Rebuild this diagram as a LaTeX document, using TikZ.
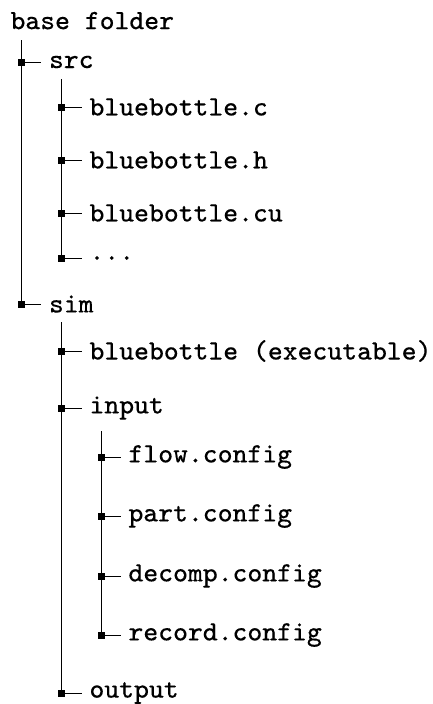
\documentclass[tikz,border=0pt]{standalone}
\usepackage{fontspec}
\setmonofont{lmmono8-regular.otf}[FakeBold=0.15]
\tikzset{
  entry/.style={anchor=west, inner sep=0pt, outer sep=0pt,
    font=\fontsize{28.0}{30}\selectfont\ttfamily},
  edge/.style={draw=black, line width=0.8pt},
  knot/.style={fill=black}
}
\newcommand\branch[2]{%
  \draw[edge] (#1) |- ([xshift=-8pt]#2.west);
  \fill[knot] (#1 |- #2.west) ++(-3.5,-3.5) rectangle ++(7,7);
}
\begin{document}
\begin{tikzpicture}[x=1pt,y=-1pt]
\useasboundingbox (0,0) rectangle (432,704);
% nodes
\node[entry] (base)   at (10.5,20.6) {base folder};
\node[entry] (src)    at (49,62)     {src};
\node[entry] (bc)     at (89.5,107)  {bluebottle.c};
\node[entry] (bh)     at (89.5,160)  {bluebottle.h};
\node[entry] (bcu)    at (89.5,213)  {bluebottle.cu};
\node[entry] (dots)   at (89.5,258)  {...};
\node[entry] (sim)    at (49,304)    {sim};
\node[entry] (exe)    at (89.5,351)  {bluebottle (executable)};
\node[entry] (input)  at (89.5,408)  {input};
\node[entry] (flow)   at (128.5,457) {flow.config};
\node[entry] (part)   at (128.5,516) {part.config};
\node[entry] (decomp) at (128.5,576) {decomp.config};
\node[entry] (record) at (128.5,635) {record.config};
\node[entry] (output) at (89.5,693)  {output};
% tops of the vertical lines
\coordinate (tbase)  at (21,40);
\coordinate (tsrc)   at (61,79);
\coordinate (tsim)   at (61,322);
\coordinate (tinput) at (101,431);
% connectors
\branch{tbase}{src}
\branch{tbase}{sim}
\branch{tsrc}{bc}
\branch{tsrc}{bh}
\branch{tsrc}{bcu}
\branch{tsrc}{dots}
\branch{tsim}{exe}
\branch{tsim}{input}
\branch{tsim}{output}
\branch{tinput}{flow}
\branch{tinput}{part}
\branch{tinput}{decomp}
\branch{tinput}{record}
\end{tikzpicture}
\end{document}
